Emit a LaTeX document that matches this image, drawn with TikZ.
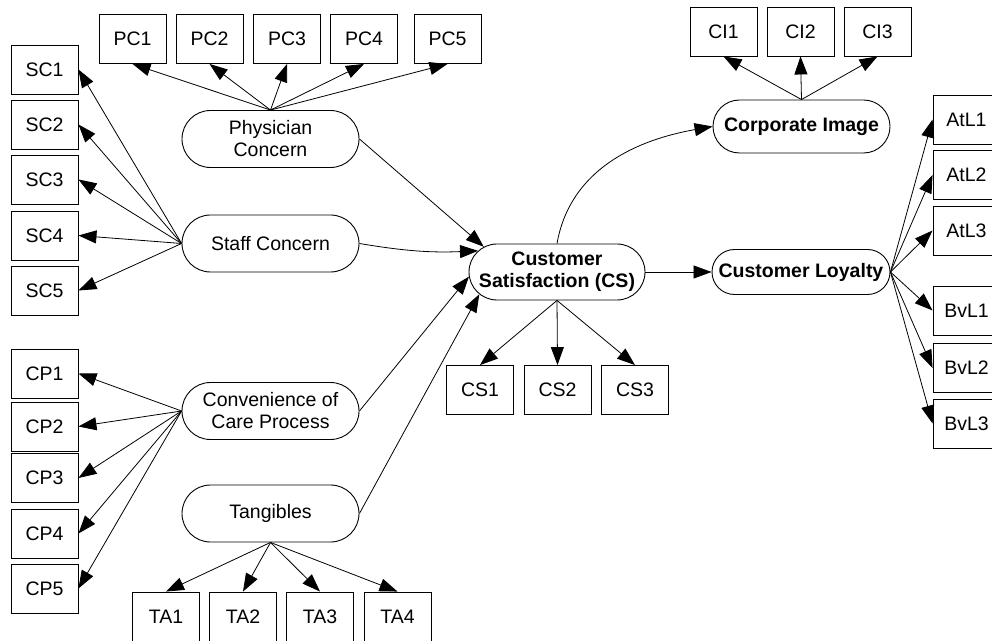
\documentclass[tikz,border=0pt]{standalone}
\usepackage{fontspec}
\setmainfont{Liberation Sans}
\usetikzlibrary{arrows.meta,shapes.misc}

\begin{document}
\begin{tikzpicture}[
  x=1pt, y=1pt,
  font=\fontsize{19.5}{22}\selectfont,
  indicator/.style={draw, line width=0.9pt, minimum width=67pt, minimum height=49pt,
    inner sep=0pt, fill=white},
  construct/.style={draw, line width=0.9pt, rounded rectangle, minimum width=177pt,
    minimum height=57pt, inner sep=0pt, align=center, fill=white},
  boldlabel/.style={font=\fontsize{19.5}{22}\selectfont\bfseries},
  link/.style={line width=0.8pt, -{Triangle[length=18pt,width=13pt]}},
]
\useasboundingbox (0,0) rectangle (992,640);

% measurement items of each construct
\node[indicator] (SC1) at (44.5,570.5) {SC1};
\node[indicator] (SC2) at (44.5,515.5) {SC2};
\node[indicator] (SC3) at (44.5,460.5) {SC3};
\node[indicator] (SC4) at (44.5,404.5) {SC4};
\node[indicator] (SC5) at (44.5,349.5) {SC5};

\node[indicator] (CP1) at (44.5,266.5) {CP1};
\node[indicator] (CP2) at (44.5,213.5) {CP2};
\node[indicator] (CP3) at (44.5,162)   {CP3};
\node[indicator] (CP4) at (44.5,106.5) {CP4};
\node[indicator] (CP5) at (44.5,51.5)  {CP5};

\node[indicator] (PC1) at (132.5,601) {PC1};
\node[indicator] (PC2) at (209.5,601) {PC2};
\node[indicator] (PC3) at (287,601)   {PC3};
\node[indicator] (PC4) at (364,601)   {PC4};
\node[indicator] (PC5) at (447.5,601) {PC5};

\node[indicator] (TA1) at (166,23.5)   {TA1};
\node[indicator] (TA2) at (243,23.5)   {TA2};
\node[indicator] (TA3) at (320,23.5)   {TA3};
\node[indicator] (TA4) at (397.5,23.5) {TA4};

\node[indicator] (CS1) at (480,250)   {CS1};
\node[indicator] (CS2) at (557.5,250) {CS2};
\node[indicator] (CS3) at (635,250)   {CS3};

\node[indicator] (CI1) at (723.5,608.5) {CI1};
\node[indicator] (CI2) at (800.5,608.5) {CI2};
\node[indicator] (CI3) at (877.5,608.5) {CI3};

\node[indicator] (AtL1) at (966.5,520.5) {AtL1};
\node[indicator] (AtL2) at (966.5,465)   {AtL2};
\node[indicator] (AtL3) at (966.5,409.5) {AtL3};
\node[indicator] (BvL1) at (966.5,329.5) {BvL1};
\node[indicator] (BvL2) at (966.5,272)   {BvL2};
\node[indicator] (BvL3) at (966.5,216.5) {BvL3};

% constructs
\node[construct] (Phys)  at (270.5,501)   {Physician\\Concern};
\node[construct] (Staff) at (270.5,396.5) {Staff Concern};
\node[construct] (Conv)  at (270.5,229)   {Convenience of\\Care Process};
\node[construct] (Tang)  at (270.5,126.5) {Tangibles};
\node[construct, boldlabel, minimum width=176pt, minimum height=56pt]
  (CS) at (557,368) {Customer\\Satisfaction (CS)};
\node[construct, boldlabel, minimum width=178pt, minimum height=45pt]
  (CL) at (801,368) {Customer Loyalty};
\node[construct, boldlabel, minimum width=177pt, minimum height=53pt]
  (CorpImg) at (801.5,513.5) {Corporate Image};

% loadings
\foreach \i in {1,...,5} \draw[link] (Phys.north) -- (PC\i.south);
\foreach \i in {1,...,5} \draw[link] (Staff.west) -- (SC\i.east);
\foreach \i in {1,...,5} \draw[link] (Conv.west) -- (CP\i.east);
\foreach \i in {1,...,4} \draw[link] (Tang.south) -- (TA\i.north);
\foreach \i in {1,...,3} \draw[link] (CS.south) -- (CS\i.north);
\foreach \i in {1,...,3} \draw[link] (CorpImg.north) -- (CI\i.south);
\foreach \i in {1,...,3} \draw[link] (CL.east) -- (AtL\i.west);
\foreach \i in {1,...,3} \draw[link] (CL.east) -- (BvL\i.west);

% structural paths
\draw[link] (Phys.east) -- (CS.161);
\draw[link] (Staff.east) to[bend right=6] (CS.165);
\draw[link] (Conv.east) -- (CS.183);
\draw[link] (Tang.east) -- (CS.196);
\draw[link] (CS.east) -- (CL.west);
\draw[link] (CS.north) to[out=80,in=190] (CorpImg.west);
\end{tikzpicture}
\end{document}
